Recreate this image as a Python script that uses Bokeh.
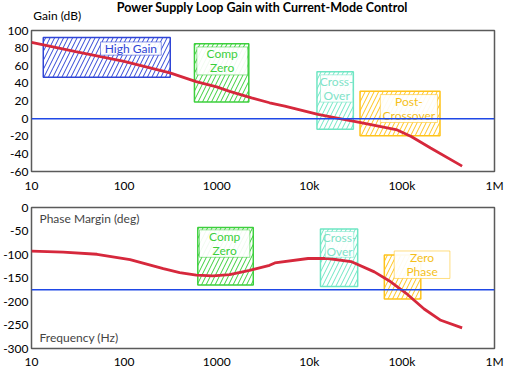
from bokeh.plotting import figure
from bokeh.models import Range1d, Span, Label, FixedTicker, CustomJSTickFormatter, GlobalInlineStyleSheet
from bokeh.layouts import column
from bokeh.embed import file_html
from bokeh.resources import INLINE
from bokeh.core.properties import value
import math

# ---------------- data ----------------
title_text = "Power Supply Loop Gain with Current-Mode Control"
gain_axis_title = "Gain (dB)"
phase_axis_title = "Phase Margin (deg)"
freq_axis_title = "Frequency (Hz)"
xtick_vals = [10, 100, 1000, 10000, 100000, 1000000]
xtick_labels = ["10", "100", "1000", "10k", "100k", "1M"]
gain_ticks = [100, 80, 60, 40, 20, 0, -20, -40, -60]
phase_ticks = [0, -50, -100, -150, -200, -250, -300]

gain_freq = [10, 30, 100, 313, 600, 1000, 1380, 2378, 3720, 5430, 12400, 20000, 36000, 89000, 126000, 204000, 447000]
gain_db = [86.5, 76, 65, 52, 42, 36, 31, 23.6, 18, 14.2, 4.8, 0.6, -4.6, -12.9, -20.3, -33.4, -53.9]

phase_freq = [10, 22, 51, 116, 265, 398, 603, 912, 1380, 2265, 3720, 4240, 9690, 15900, 28200, 50400, 75700, 115000, 174000, 263000, 447000]
phase_deg = [-93, -95, -99.5, -111, -130, -138.6, -144, -145.5, -143, -134, -123, -118, -108.5, -108.5, -115, -137, -158, -185, -216, -240, -256]

# zone boxes (gain panel)
g_names = ["High Gain", "Comp\nZero", "Cross-\nOver", "Post-\nCrossover"]
g_colors = ["#2f45d6", "#3ccf3c", "#6fe6c4", "#ffc31a"]
g_text_colors = ["#2f45d6", "#3ccf3c", "#7fe3c8", "#f5bf1a"]
g_box_left = [13.4, 575, 12100, 35300]
g_box_right = [315, 2222, 29900, 258000]
g_box_bottom = [47, 19, -12, -19.4]
g_box_top = [92, 85, 53.3, 31]
g_lab_left = [55.6, 610, 13200, 58500]
g_lab_right = [252, 2154, 29500, 242000]
g_lab_bottom = [72, 49.6, 18.7, -4.4]
g_lab_top = [87, 81.3, 49.7, 27.3]

# zone boxes (phase panel)
p_names = ["Comp\nZero", "Cross-\nOver", "Zero\nPhase"]
p_colors = ["#3ccf3c", "#6fe6c4", "#ffc31a"]
p_text_colors = ["#3ccf3c", "#7fe3c8", "#f5bf1a"]
p_box_left = [625, 13200, 64600]
p_box_right = [2483, 33300, 160000]
p_box_bottom = [-165, -168, -194.5]
p_box_top = [-42.8, -46, -101]
p_lab_left = [652, 14900, 82600]
p_lab_right = [2280, 30200, 330000]
p_lab_bottom = [-106, -106, -151]
p_lab_top = [-47.6, -51, -92.5]

gain_ref = 0
phase_ref = -175

FONT = "Lato"
RED = "#d6283c"
BLUE = "#1f48e6"
LINE_PX = 14

x_fmt = CustomJSTickFormatter(args=dict(vals=xtick_vals, labs=xtick_labels), code="""
for (let i = 0; i < vals.length; i++) {
  if (Math.abs(Math.log10(tick) - Math.log10(vals[i])) < 1e-6) return labs[i];
}
return '';
""")
y_fmt = CustomJSTickFormatter(code="return String(Math.round(tick));")


def make_fig(height, ymin, ymax, yticks, top_border, bottom_border, x_standoff):
    p = figure(width=507, height=height, x_axis_type="log",
               x_range=Range1d(10, 1e6), y_range=Range1d(ymin, ymax),
               output_backend="svg", toolbar_location=None,
               min_border_left=29, min_border_right=13,
               min_border_top=top_border, min_border_bottom=bottom_border)
    p.grid.visible = False
    p.outline_line_color = "#5a5a5a"
    p.outline_line_width = 1.5
    p.xaxis.ticker = FixedTicker(ticks=xtick_vals, minor_ticks=[])
    p.xaxis.formatter = x_fmt
    p.yaxis.ticker = FixedTicker(ticks=yticks, minor_ticks=[])
    p.yaxis.formatter = y_fmt
    for ax in (p.xaxis, p.yaxis):
        ax.axis_line_color = None
        ax.major_tick_line_color = None
        ax.minor_tick_line_color = None
        ax.major_tick_in = 0
        ax.major_tick_out = 0
        ax.major_label_text_font = FONT
        ax.major_label_text_font_size = "12px"
        ax.major_label_text_color = "#000000"
    p.xaxis.major_label_standoff = x_standoff
    p.yaxis.major_label_standoff = 3
    p.background_fill_color = "white"
    p.border_fill_color = "white"
    return p


def draw_zones(p, colors, bl, br, bb, bt):
    p.quad(left=bl, right=br, bottom=bb, top=bt, fill_color=None,
           hatch_pattern="/", hatch_color=colors, hatch_scale=9, hatch_weight=1,
           line_color=colors, line_width=1.5)


def draw_labels(p, names, colors, tcolors, ll, lr, lb, lt):
    p.quad(left=ll, right=lr, bottom=lb, top=lt, fill_color="white", fill_alpha=0.92,
           line_color=colors, line_alpha=0.55, line_width=1)
    xs, ys, txt, cols, offs = [], [], [], [], []
    for name, c, a, b, lo, hi in zip(names, tcolors, ll, lr, lb, lt):
        lines = name.split("\n")
        n = len(lines)
        for i, s in enumerate(lines):
            xs.append(math.sqrt(a * b))
            ys.append((lo + hi) / 2)
            txt.append(s)
            cols.append(c)
            offs.append((i - (n - 1) / 2) * LINE_PX)
    p.text(x=xs, y=ys, text=txt, text_color=cols, y_offset=offs, text_align="center",
           text_baseline="middle", text_font=value(FONT), text_font_size="12px")


# ---------------- heading strip (pixel coordinates) ----------------
p0 = figure(width=507, height=23, x_range=Range1d(0, 507), y_range=Range1d(23, 0),
            output_backend="svg", toolbar_location=None,
            x_axis_location=None, y_axis_location=None, min_border=0)
p0.grid.visible = False
p0.outline_line_color = None
p0.text(x=[253], y=[7], text=[title_text], text_align="center", text_baseline="middle",
        text_font=value(FONT), text_font_size="12.5px", text_font_style="bold", text_color="#000000")
p0.text(x=[2], y=[15.3], text=[gain_axis_title], text_align="left", text_baseline="middle",
        text_font=value(FONT), text_font_size="12px", text_color="#000000")

# ---------------- gain panel ----------------
p1 = make_fig(172, -60, 100, gain_ticks, 7, 22, 6)
p1.add_layout(Span(location=gain_ref, dimension="width", line_color=BLUE, line_width=1.5))
draw_zones(p1, g_colors, g_box_left, g_box_right, g_box_bottom, g_box_top)
p1.line(gain_freq, gain_db, line_color=RED, line_width=2.8)
draw_labels(p1, g_names, g_colors, g_text_colors, g_lab_left, g_lab_right, g_lab_bottom, g_lab_top)

# ---------------- phase panel ----------------
p2 = make_fig(176, -300, 0, phase_ticks, 12, 19, 5)
p2.add_layout(Span(location=phase_ref, dimension="width", line_color=BLUE, line_width=1.5))
draw_zones(p2, p_colors, p_box_left, p_box_right, p_box_bottom, p_box_top)
p2.line(phase_freq, phase_deg, line_color=RED, line_width=2.8)
draw_labels(p2, p_names, p_colors, p_text_colors, p_lab_left, p_lab_right, p_lab_bottom, p_lab_top)
p2.add_layout(Label(x=10, y=0, x_offset=8, y_offset=-18, text=phase_axis_title,
                    text_font=FONT, text_font_size="12px", text_baseline="bottom"))
p2.add_layout(Label(x=10, y=-300, x_offset=8, y_offset=4, text=freq_axis_title,
                    text_font=FONT, text_font_size="12px", text_baseline="bottom"))

page_css = GlobalInlineStyleSheet(css="html, body { margin: 0 !important; padding: 0 !important; overflow: hidden !important; }")
layout = column(p0, p1, p2, spacing=0, stylesheets=[page_css])
open("out.html", "w").write(file_html(layout, INLINE))
